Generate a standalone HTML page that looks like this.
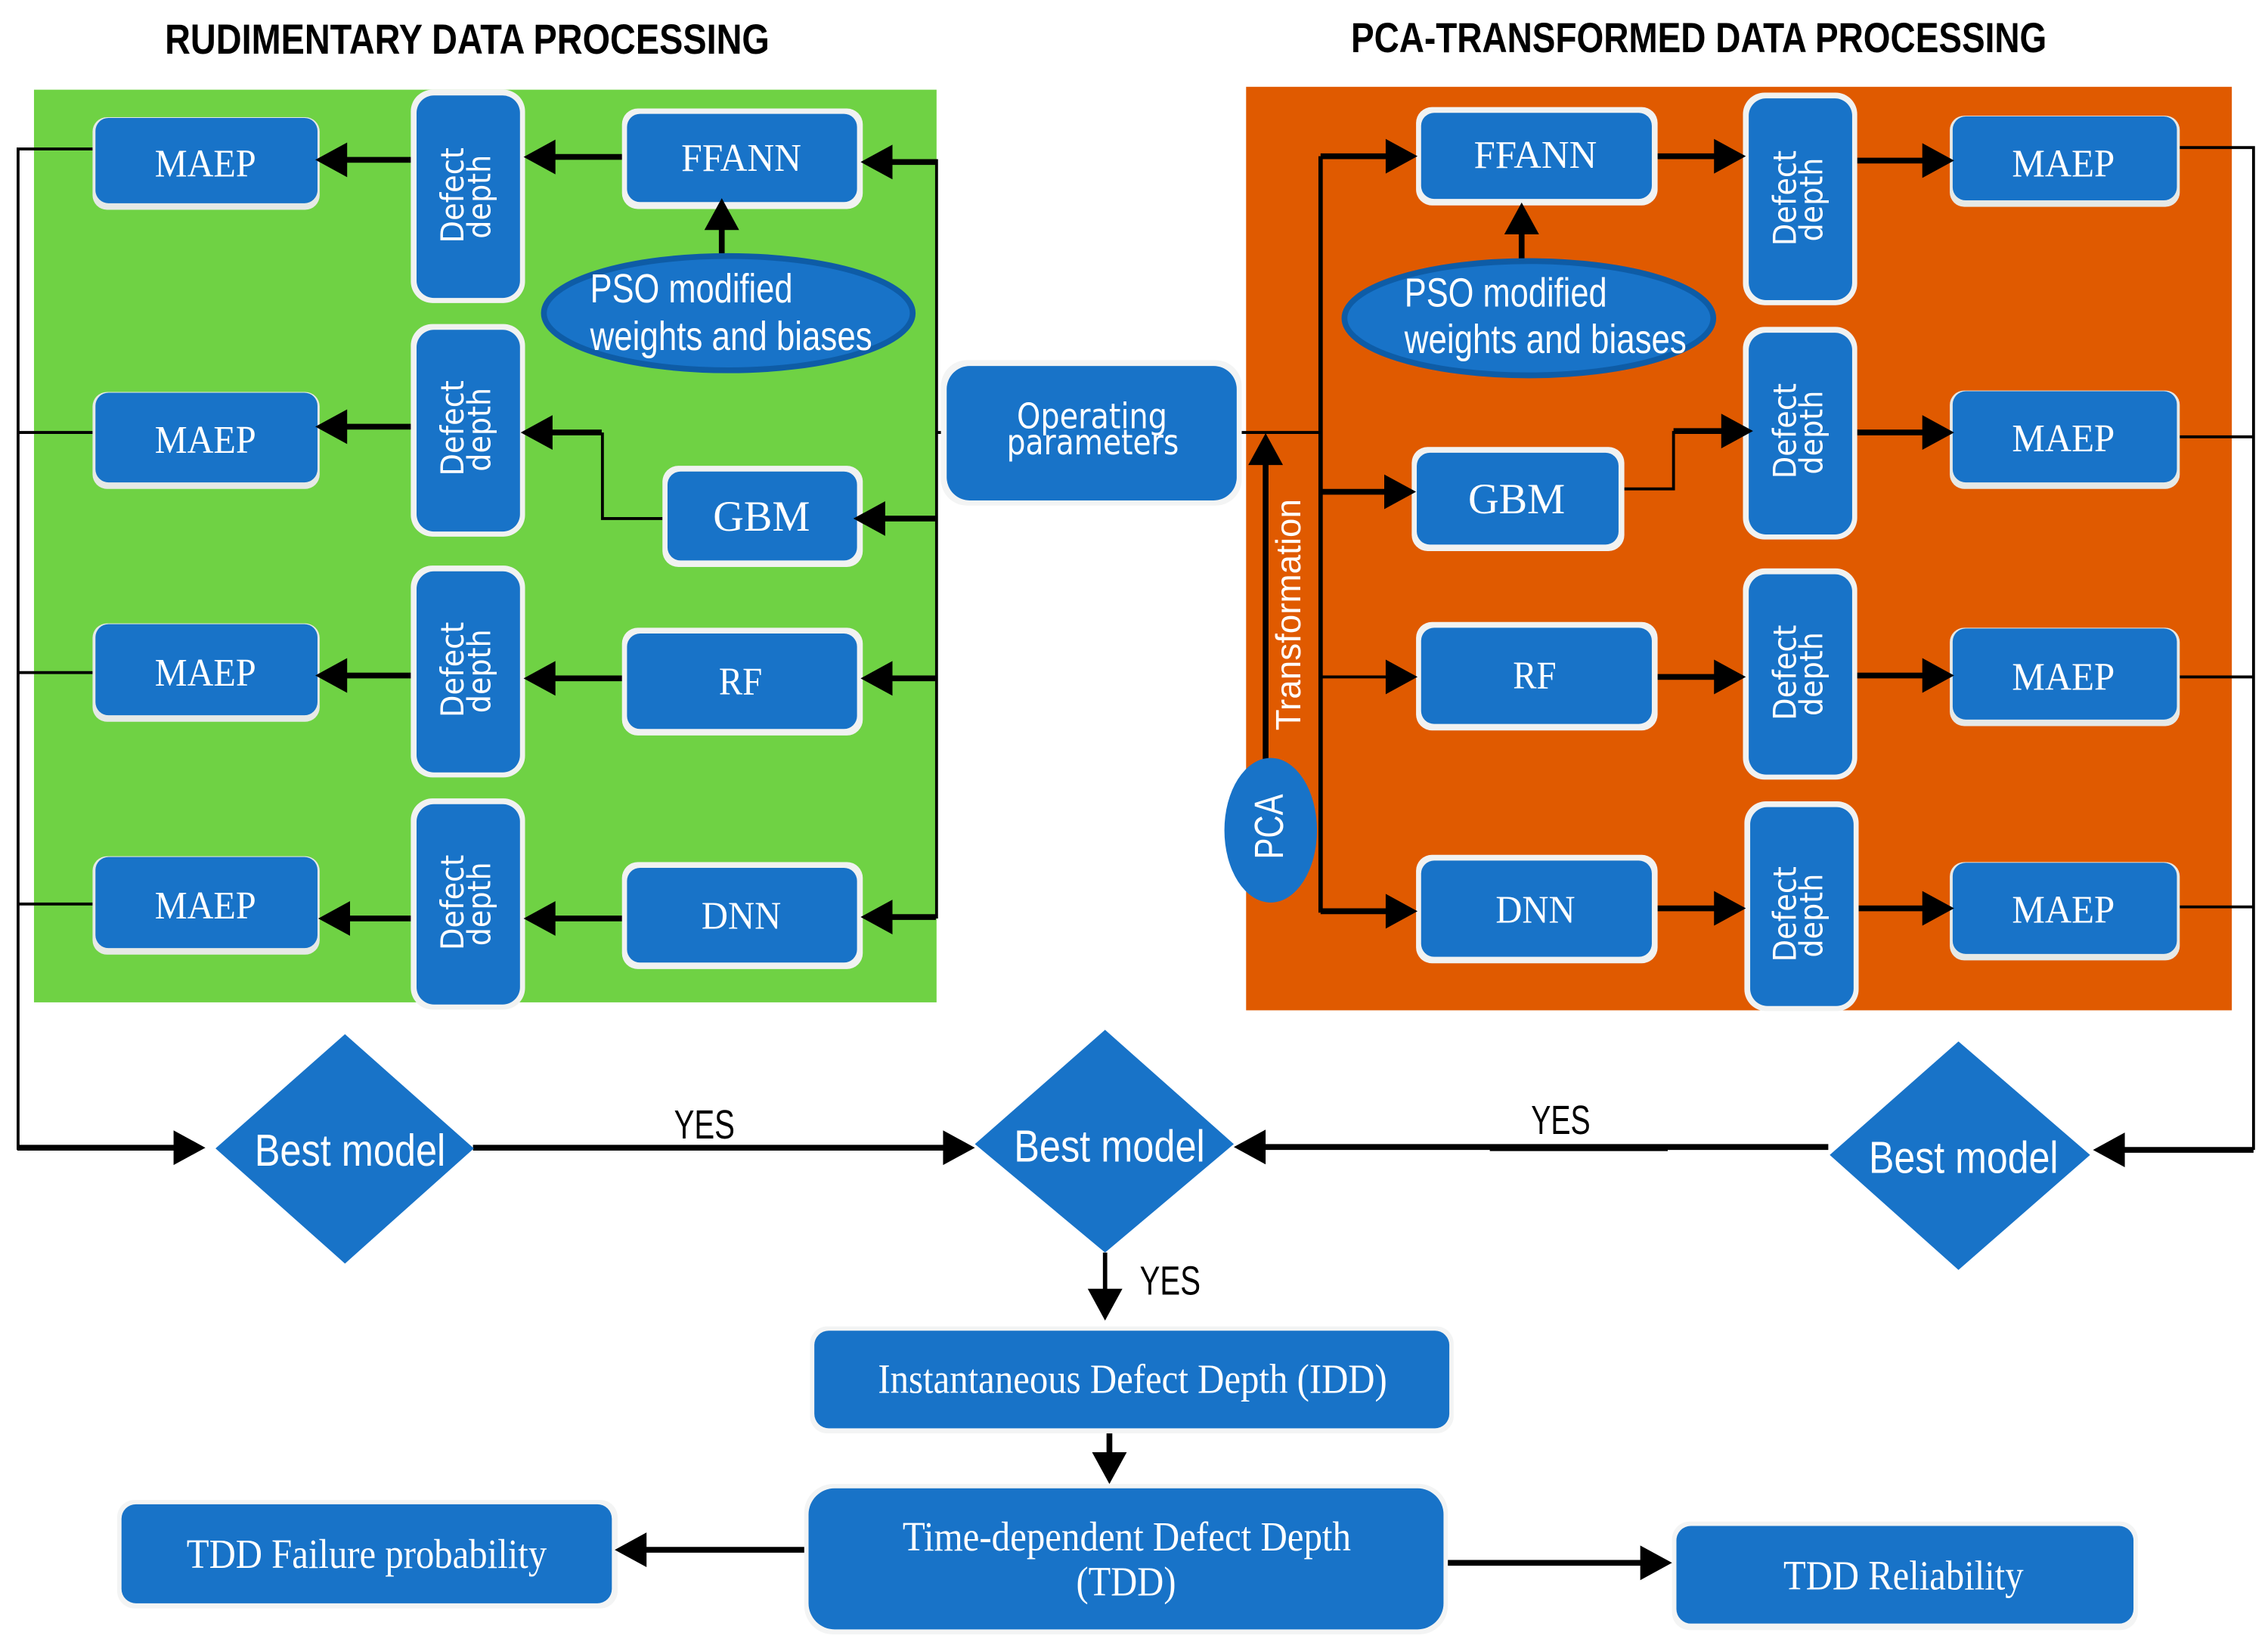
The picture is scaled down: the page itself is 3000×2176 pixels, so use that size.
<!DOCTYPE html>
<html><head><meta charset="utf-8"><style>
html,body{margin:0;padding:0;background:#fff}
svg{display:block}
.t{stroke:#000;stroke-width:4;fill:none}
.n{stroke:#000;stroke-width:2;fill:none}
.o{fill:#e6e9e6}
.w{fill:#f1f2f1}
.p{fill:#f3f4f4}
.b{fill:#1873c8}
text{fill:#fff}
.tm{font-family:"Liberation Serif",serif;font-size:27px}
.tb{font-family:"Liberation Serif",serif;font-size:29px}
.sn{font-family:"Liberation Sans",sans-serif;font-size:28px}
.dj{font-family:"DejaVu Sans",sans-serif;font-size:22px}
.k{fill:#000}
.h{font-family:"Liberation Sans",sans-serif;font-size:29px;font-weight:bold;fill:#000}
</style></head><body>
<svg xmlns="http://www.w3.org/2000/svg" width="3000" height="2176" viewBox="0 0 1568 1137.3">
<defs>
<polygon id="L" points="0,0 22,-12 22,12" fill="#000"/>
<polygon id="R" points="0,0 -22,-12 -22,12" fill="#000"/>
<polygon id="U" points="0,0 -12,22 12,22" fill="#000"/>
<polygon id="D" points="0,0 -12,-22 12,-22" fill="#000"/>
</defs>
<rect width="1568" height="1137.3" fill="#fff"/>
<rect x="23.5" y="62" width="624" height="631" fill="#6fd244"/>
<rect x="861.5" y="60" width="681.5" height="638.5" fill="#e05a00"/>

<!-- headings -->
<text class="h" x="114" y="37" textLength="418" lengthAdjust="spacingAndGlyphs">RUDIMENTARY DATA PROCESSING</text>
<text class="h" x="934" y="36" textLength="481" lengthAdjust="spacingAndGlyphs">PCA-TRANSFORMED DATA PROCESSING</text>

<!-- left thin connectors -->
<path class="n" d="M64 103H12.5V795"/>
<path class="n" d="M12.5 299H64M12.5 465H64M12.5 625H64"/>
<path class="n" d="M647.5 110V635M647 299H654"/>
<path class="n" d="M458 358.5H416.5V299"/>
<!-- left thick -->
<path class="t" d="M239 110.500H286M382 108.500H431M615 112H647"/>
<path class="t" d="M239 295H286M380 299H416M610 358.500H647"/>
<path class="t" d="M239 467H286M382 469H431M615 469H647"/>
<path class="t" d="M240 635H286M382 635H431M615 634H647"/>
<path class="t" d="M499 177V157"/>

<!-- right connectors -->
<path class="n" d="M858 299H913"/>
<path class="t" style="stroke-width:3" d="M913 108V631"/>
<path class="t" d="M913 108H960M913 340H960M913 630H960"/>
<path class="n" d="M913 468H960"/>
<path class="t" d="M1143 108H1188M1284 111H1331"/>
<path class="n" d="M1122 338H1157V298"/>
<path class="t" d="M1157 298H1192M1284 299H1331"/>
<path class="t" d="M1140 468H1188M1280 467H1331"/>
<path class="t" d="M1140 628H1188M1284 628H1331"/>
<path class="n" d="M1505 102H1558V795M1505 302H1558M1505 468H1558M1505 627H1558"/>
<path class="t" d="M875 526V318"/>
<path class="t" d="M1052 190V160"/>

<!-- bottom connectors -->
<path class="t" d="M12 793.500H122M327 793.500H655"/>
<path class="t" d="M874 793H1264M1468 795H1558"/>
<path class="t" d="M1030 793.800H1153"/>
<path class="t" style="stroke-width:3" d="M764 866V895"/>
<path class="t" d="M767 990V1008"/>
<path class="t" d="M445 1071.500H557M1000 1080.500H1136"/>

<!-- left boxes -->
<g>
<rect class="o" x="64" y="81" width="157" height="64" rx="10"/><rect class="b" x="66" y="81.500" width="153.500" height="59" rx="9"/>
<rect class="o" x="64" y="271" width="157" height="67" rx="10"/><rect class="b" x="66" y="271.500" width="153.500" height="62" rx="9"/>
<rect class="o" x="64" y="431" width="157" height="68" rx="10"/><rect class="b" x="66" y="431.500" width="153.500" height="63" rx="9"/>
<rect class="o" x="64" y="592" width="157" height="68" rx="10"/><rect class="b" x="66" y="592.500" width="153.500" height="63" rx="9"/>

<rect class="w" x="284" y="62" width="79" height="147.500" rx="15"/><rect class="b" x="288" y="66" width="71.500" height="140" rx="12"/>
<rect class="w" x="284" y="224" width="79" height="147" rx="15"/><rect class="b" x="288" y="228" width="71.500" height="139.500" rx="12"/>
<rect class="w" x="284" y="391" width="79" height="146.500" rx="15"/><rect class="b" x="288" y="395" width="71.500" height="139" rx="12"/>
<rect class="w" x="284" y="552" width="79" height="146" rx="15"/><rect class="b" x="288" y="556" width="71.500" height="138.500" rx="12"/>

<rect class="w" x="430" y="75" width="166.500" height="69.500" rx="11"/><rect class="b" x="433.500" y="78.700" width="159" height="61" rx="9"/>
<rect class="w" x="458" y="322" width="138.500" height="70" rx="11"/><rect class="b" x="461.500" y="326" width="131" height="61.500" rx="9"/>
<rect class="w" x="430" y="434" width="166.500" height="74.500" rx="11"/><rect class="b" x="433.500" y="438" width="159" height="66" rx="9"/>
<rect class="w" x="430" y="596" width="166.500" height="74" rx="11"/><rect class="b" x="433.500" y="600" width="159" height="65.500" rx="9"/>

<ellipse cx="503.500" cy="216.500" rx="127.500" ry="39.500" fill="#1873c8" stroke="#0e5ca6" stroke-width="4"/>
</g>

<!-- operating -->
<rect class="p" x="650.500" y="249" width="208" height="100.500" rx="18"/>
<rect class="b" x="654.500" y="253" width="200.500" height="93" rx="16"/>

<!-- right boxes -->
<g>
<rect class="w" x="979" y="74" width="167" height="68" rx="11"/><rect class="b" x="982.500" y="78" width="159.500" height="59.500" rx="9"/>
<rect class="w" x="976" y="309" width="147" height="72" rx="11"/><rect class="b" x="979.500" y="313" width="139.500" height="63.500" rx="9"/>
<rect class="w" x="979" y="430" width="167" height="75" rx="11"/><rect class="b" x="982.500" y="434" width="159.500" height="66.500" rx="9"/>
<rect class="w" x="979" y="591" width="167" height="75" rx="11"/><rect class="b" x="982.500" y="595" width="159.500" height="66.500" rx="9"/>

<rect class="w" x="1205" y="64" width="79" height="147" rx="15"/><rect class="b" x="1209" y="68" width="71.500" height="139.500" rx="12"/>
<rect class="w" x="1205" y="226" width="79" height="147" rx="15"/><rect class="b" x="1209" y="230" width="71.500" height="139.500" rx="12"/>
<rect class="w" x="1205" y="393" width="79" height="146" rx="15"/><rect class="b" x="1209" y="397" width="71.500" height="138.500" rx="12"/>
<rect class="w" x="1206" y="554" width="79" height="145" rx="15"/><rect class="b" x="1210" y="558" width="71.500" height="137.500" rx="12"/>

<rect class="o" x="1348" y="80" width="159" height="63" rx="10"/><rect class="b" x="1350" y="80.500" width="155" height="58" rx="9"/>
<rect class="o" x="1348" y="270" width="159" height="68" rx="10"/><rect class="b" x="1350" y="270.500" width="155" height="63" rx="9"/>
<rect class="o" x="1348" y="434" width="159" height="68" rx="10"/><rect class="b" x="1350" y="434.500" width="155" height="63" rx="9"/>
<rect class="o" x="1348" y="596" width="159" height="68" rx="10"/><rect class="b" x="1350" y="596.500" width="155" height="63" rx="9"/>

<ellipse cx="1057" cy="220" rx="127.500" ry="39.500" fill="#1873c8" stroke="#0e5ca6" stroke-width="4"/>
<ellipse cx="878.500" cy="574" rx="32" ry="50" fill="#1873c8"/>
</g>

<!-- diamonds -->
<polygon class="b" points="238.500,715 327.600,794 238.500,873.600 149,794"/>
<polygon class="b" points="764,712 853,791 764,866 674,791"/>
<polygon class="b" points="1354,720 1445,798.500 1354,878 1265,798.500"/>

<!-- bottom boxes -->
<rect class="p" x="560" y="917" width="445" height="74" rx="12"/><rect class="b" x="563" y="920" width="439" height="67.500" rx="10"/>
<rect class="p" x="556" y="1026" width="445" height="104" rx="20"/><rect class="b" x="559" y="1029" width="439" height="97.500" rx="18"/>
<rect class="p" x="81" y="1037" width="346" height="75" rx="12"/><rect class="b" x="84" y="1040" width="339" height="68.500" rx="10"/>
<rect class="p" x="1156" y="1052" width="322" height="75" rx="12"/><rect class="b" x="1159" y="1055" width="316" height="67.500" rx="10"/>

<!-- arrowheads -->
<use href="#L" x="218" y="110.500"/><use href="#L" x="362" y="108.500"/><use href="#L" x="595" y="112"/>
<use href="#L" x="218" y="295"/><use href="#L" x="360" y="299"/><use href="#L" x="590" y="358.500"/>
<use href="#L" x="218" y="467"/><use href="#L" x="362" y="469"/><use href="#L" x="595" y="469"/>
<use href="#L" x="220" y="635"/><use href="#L" x="362" y="635"/><use href="#L" x="595" y="634"/>
<use href="#U" x="499" y="137"/>
<use href="#U" x="875" y="299.500"/>
<use href="#U" x="1052" y="140"/>
<use href="#R" x="980" y="108"/><use href="#R" x="979" y="340"/><use href="#R" x="980" y="468"/><use href="#R" x="980" y="630"/>
<use href="#R" x="1207" y="108"/><use href="#R" x="1212" y="298"/><use href="#R" x="1207" y="468"/><use href="#R" x="1207" y="628"/>
<use href="#R" x="1351" y="111"/><use href="#R" x="1351" y="299"/><use href="#R" x="1351" y="467"/><use href="#R" x="1351" y="628"/>
<use href="#R" x="142" y="793.500"/><use href="#R" x="674" y="793.500"/>
<use href="#L" x="853" y="793"/><use href="#L" x="1447" y="795"/>
<use href="#D" x="764" y="913"/><use href="#D" x="767" y="1026"/>
<use href="#L" x="425" y="1071.500"/><use href="#R" x="1156" y="1080.500"/>

<!-- left labels -->
<text class="tm" x="107" y="122" textLength="70" lengthAdjust="spacingAndGlyphs">MAEP</text>
<text class="tm" x="107" y="313" textLength="70" lengthAdjust="spacingAndGlyphs">MAEP</text>
<text class="tm" x="107" y="474" textLength="70" lengthAdjust="spacingAndGlyphs">MAEP</text>
<text class="tm" x="107" y="635" textLength="70" lengthAdjust="spacingAndGlyphs">MAEP</text>
<text class="tm" x="471" y="118" textLength="83" lengthAdjust="spacingAndGlyphs">FFANN</text>
<text class="tm" style="font-size:30px" x="493" y="367" textLength="67" lengthAdjust="spacingAndGlyphs">GBM</text>
<text class="tm" x="497" y="480" textLength="30" lengthAdjust="spacingAndGlyphs">RF</text>
<text class="tm" x="485" y="642" textLength="55" lengthAdjust="spacingAndGlyphs">DNN</text>
<text class="sn" x="408" y="209" textLength="140" lengthAdjust="spacingAndGlyphs">PSO modified</text>
<text class="sn" x="408" y="242" textLength="195" lengthAdjust="spacingAndGlyphs">weights and biases</text>

<text class="dj" transform="translate(320.500,135) rotate(-90)" text-anchor="middle" textLength="66" lengthAdjust="spacingAndGlyphs">Defect</text>
<text class="dj" transform="translate(339,136) rotate(-90)" text-anchor="middle" textLength="58" lengthAdjust="spacingAndGlyphs">depth</text>
<text class="dj" transform="translate(320.500,296) rotate(-90)" text-anchor="middle" textLength="66" lengthAdjust="spacingAndGlyphs">Defect</text>
<text class="dj" transform="translate(339,297) rotate(-90)" text-anchor="middle" textLength="58" lengthAdjust="spacingAndGlyphs">depth</text>
<text class="dj" transform="translate(320.500,463) rotate(-90)" text-anchor="middle" textLength="66" lengthAdjust="spacingAndGlyphs">Defect</text>
<text class="dj" transform="translate(339,464) rotate(-90)" text-anchor="middle" textLength="58" lengthAdjust="spacingAndGlyphs">depth</text>
<text class="dj" transform="translate(320.500,624) rotate(-90)" text-anchor="middle" textLength="66" lengthAdjust="spacingAndGlyphs">Defect</text>
<text class="dj" transform="translate(339,625) rotate(-90)" text-anchor="middle" textLength="58" lengthAdjust="spacingAndGlyphs">depth</text>

<!-- center labels -->
<text class="dj" style="font-size:24px" x="703" y="296" textLength="104" lengthAdjust="spacingAndGlyphs">Operating</text>
<text class="dj" style="font-size:24px" x="696" y="314" textLength="119" lengthAdjust="spacingAndGlyphs">parameters</text>
<text class="sn" style="font-size:24px" transform="translate(899,505) rotate(-90)" textLength="160" lengthAdjust="spacingAndGlyphs">Transformation</text>
<text class="sn" style="font-size:28px" transform="translate(887,594) rotate(-90)" textLength="45" lengthAdjust="spacingAndGlyphs">PCA</text>

<!-- right labels -->
<text class="tm" x="1019" y="116" textLength="85" lengthAdjust="spacingAndGlyphs">FFANN</text>
<text class="tm" style="font-size:30px" x="1015" y="355" textLength="67" lengthAdjust="spacingAndGlyphs">GBM</text>
<text class="tm" x="1046" y="476" textLength="30" lengthAdjust="spacingAndGlyphs">RF</text>
<text class="tm" x="1034" y="638" textLength="55" lengthAdjust="spacingAndGlyphs">DNN</text>
<text class="tm" x="1391" y="122" textLength="71" lengthAdjust="spacingAndGlyphs">MAEP</text>
<text class="tm" x="1391" y="312" textLength="71" lengthAdjust="spacingAndGlyphs">MAEP</text>
<text class="tm" x="1391" y="477" textLength="71" lengthAdjust="spacingAndGlyphs">MAEP</text>
<text class="tm" x="1391" y="638" textLength="71" lengthAdjust="spacingAndGlyphs">MAEP</text>
<text class="sn" x="971" y="212" textLength="140" lengthAdjust="spacingAndGlyphs">PSO modified</text>
<text class="sn" x="971" y="244" textLength="195" lengthAdjust="spacingAndGlyphs">weights and biases</text>

<text class="dj" transform="translate(1241.500,137) rotate(-90)" text-anchor="middle" textLength="66" lengthAdjust="spacingAndGlyphs">Defect</text>
<text class="dj" transform="translate(1260,138) rotate(-90)" text-anchor="middle" textLength="58" lengthAdjust="spacingAndGlyphs">depth</text>
<text class="dj" transform="translate(1241.500,298) rotate(-90)" text-anchor="middle" textLength="66" lengthAdjust="spacingAndGlyphs">Defect</text>
<text class="dj" transform="translate(1260,299) rotate(-90)" text-anchor="middle" textLength="58" lengthAdjust="spacingAndGlyphs">depth</text>
<text class="dj" transform="translate(1241.500,465) rotate(-90)" text-anchor="middle" textLength="66" lengthAdjust="spacingAndGlyphs">Defect</text>
<text class="dj" transform="translate(1260,466) rotate(-90)" text-anchor="middle" textLength="58" lengthAdjust="spacingAndGlyphs">depth</text>
<text class="dj" transform="translate(1241.500,632) rotate(-90)" text-anchor="middle" textLength="66" lengthAdjust="spacingAndGlyphs">Defect</text>
<text class="dj" transform="translate(1260,633) rotate(-90)" text-anchor="middle" textLength="58" lengthAdjust="spacingAndGlyphs">depth</text>

<!-- bottom labels -->
<text class="sn" style="font-size:31px" x="176" y="806" textLength="132" lengthAdjust="spacingAndGlyphs">Best model</text>
<text class="sn" style="font-size:31px" x="701" y="803" textLength="132" lengthAdjust="spacingAndGlyphs">Best model</text>
<text class="sn" style="font-size:31px" x="1292" y="811" textLength="131" lengthAdjust="spacingAndGlyphs">Best model</text>
<text class="sn k" x="466" y="787" textLength="42" lengthAdjust="spacingAndGlyphs">YES</text>
<text class="sn k" x="1058.500" y="784" textLength="41" lengthAdjust="spacingAndGlyphs">YES</text>
<text class="sn k" x="788" y="895" textLength="42" lengthAdjust="spacingAndGlyphs">YES</text>
<text class="tb" x="607" y="963" textLength="352" lengthAdjust="spacingAndGlyphs">Instantaneous Defect Depth (IDD)</text>
<text class="tb" x="624" y="1072" textLength="310" lengthAdjust="spacingAndGlyphs">Time-dependent Defect Depth</text>
<text class="tb" x="744" y="1103" textLength="69" lengthAdjust="spacingAndGlyphs">(TDD)</text>
<text class="tb" x="129" y="1084" textLength="249" lengthAdjust="spacingAndGlyphs">TDD Failure probability</text>
<text class="tb" x="1233" y="1099" textLength="166" lengthAdjust="spacingAndGlyphs">TDD Reliability</text>
</svg>
</body></html>
